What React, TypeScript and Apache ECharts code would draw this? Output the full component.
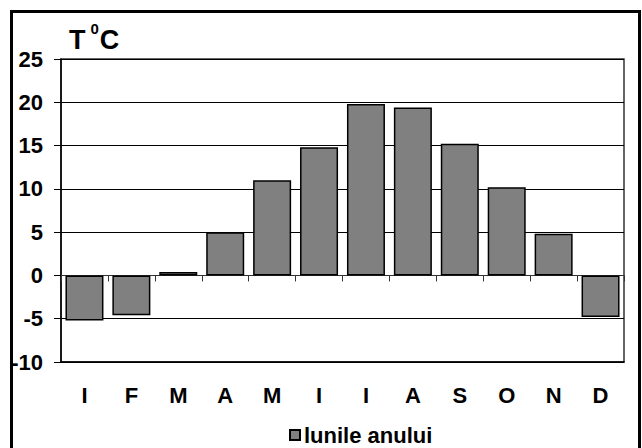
import React, { useEffect, useRef } from "react";
import * as echarts from "echarts";

const months = ["I", "F", "M", "A", "M", "I", "I", "A", "S", "O", "N", "D"];
const temps = [-5.2, -4.6, 0.4, 5.0, 11.0, 14.8, 19.8, 19.4, 15.2, 10.2, 4.8, -4.8];
const seriesName = "lunile anului";
const yMin = -10;
const yMax = 25;
const yStep = 5;

const FONT = "'Liberation Sans Narrow', 'Arial Narrow', 'Liberation Sans', Arial, sans-serif";

export default function App() {
  const ref = useRef<HTMLDivElement>(null);
  useEffect(() => {
    if (!ref.current) return;
    const chart = echarts.init(ref.current, undefined, { renderer: "svg" });
    chart.setOption({
      animation: false,
      backgroundColor: "#fff",
      textStyle: { fontFamily: FONT },
      title: {
        left: 64,
        top: 16,
        text: "{a|T}{b|0}{a|C}",
        textStyle: {
          rich: {
            a: { fontFamily: FONT, fontWeight: "bold", fontSize: 27, color: "#000" },
            b: { fontFamily: FONT, fontWeight: "bold", fontSize: 15, color: "#000", verticalAlign: "top", padding: [0, 1, 22, 5] },
          },
        },
      },
      graphic: [
        {
          type: "rect",
          shape: { x: 11.5, y: 11.5, width: 628, height: 460 },
          style: { fill: "none", stroke: "#000", lineWidth: 3 },
          silent: true,
        },
      ],
      legend: {
        left: 289,
        top: 424,
        padding: 0,
        icon: "rect",
        itemWidth: 10,
        itemHeight: 10,
        itemGap: 10,
        textStyle: {
          fontFamily: FONT,
          fontWeight: "bold",
          fontSize: 22,
          color: "#000",
          padding: [0, 0, 0, -1],
        },
        data: [seriesName],
      },
      grid: {
        left: 61,
        right: 18,
        top: 59,
        bottom: 86,
        show: true,
        borderColor: "#333",
        borderWidth: 1.5,
        backgroundColor: "#fff",
      },
      xAxis: [
        {
          type: "category",
          data: months,
          position: "bottom",
          axisLine: { onZero: false, show: true, lineStyle: { color: "#000", width: 1.5 } },
          axisTick: { show: false },
          axisLabel: { margin: 22, fontFamily: FONT, fontWeight: "bold", fontSize: 22, color: "#000", interval: 0 },
        },
        {
          type: "category",
          data: months,
          position: "bottom",
          axisLine: { onZero: true, show: true, lineStyle: { color: "#333", width: 1 } },
          axisTick: { show: true, length: 6, lineStyle: { color: "#333" } },
          axisLabel: { show: false },
        },
      ],
      yAxis: {
        type: "value",
        min: yMin,
        max: yMax,
        interval: yStep,
        axisLine: { show: true, lineStyle: { color: "#000", width: 1.5 } },
        axisTick: { show: true, length: 7, lineStyle: { color: "#000" } },
        axisLabel: { margin: 18, fontFamily: FONT, fontWeight: "bold", fontSize: 22, color: "#000" },
        splitLine: { show: true, lineStyle: { color: "#000", width: 1 } },
      },
      series: [
        {
          name: seriesName,
          type: "bar",
          xAxisIndex: 0,
          data: temps,
          barCategoryGap: "19%",
          itemStyle: { color: "#808080", borderColor: "#000", borderWidth: 1.5 },
        },
      ],
    });
    return () => chart.dispose();
  }, []);
  return <div ref={ref} style={{ position: "fixed", left: 0, top: 0, width: 642, height: 448 }} />;
}
